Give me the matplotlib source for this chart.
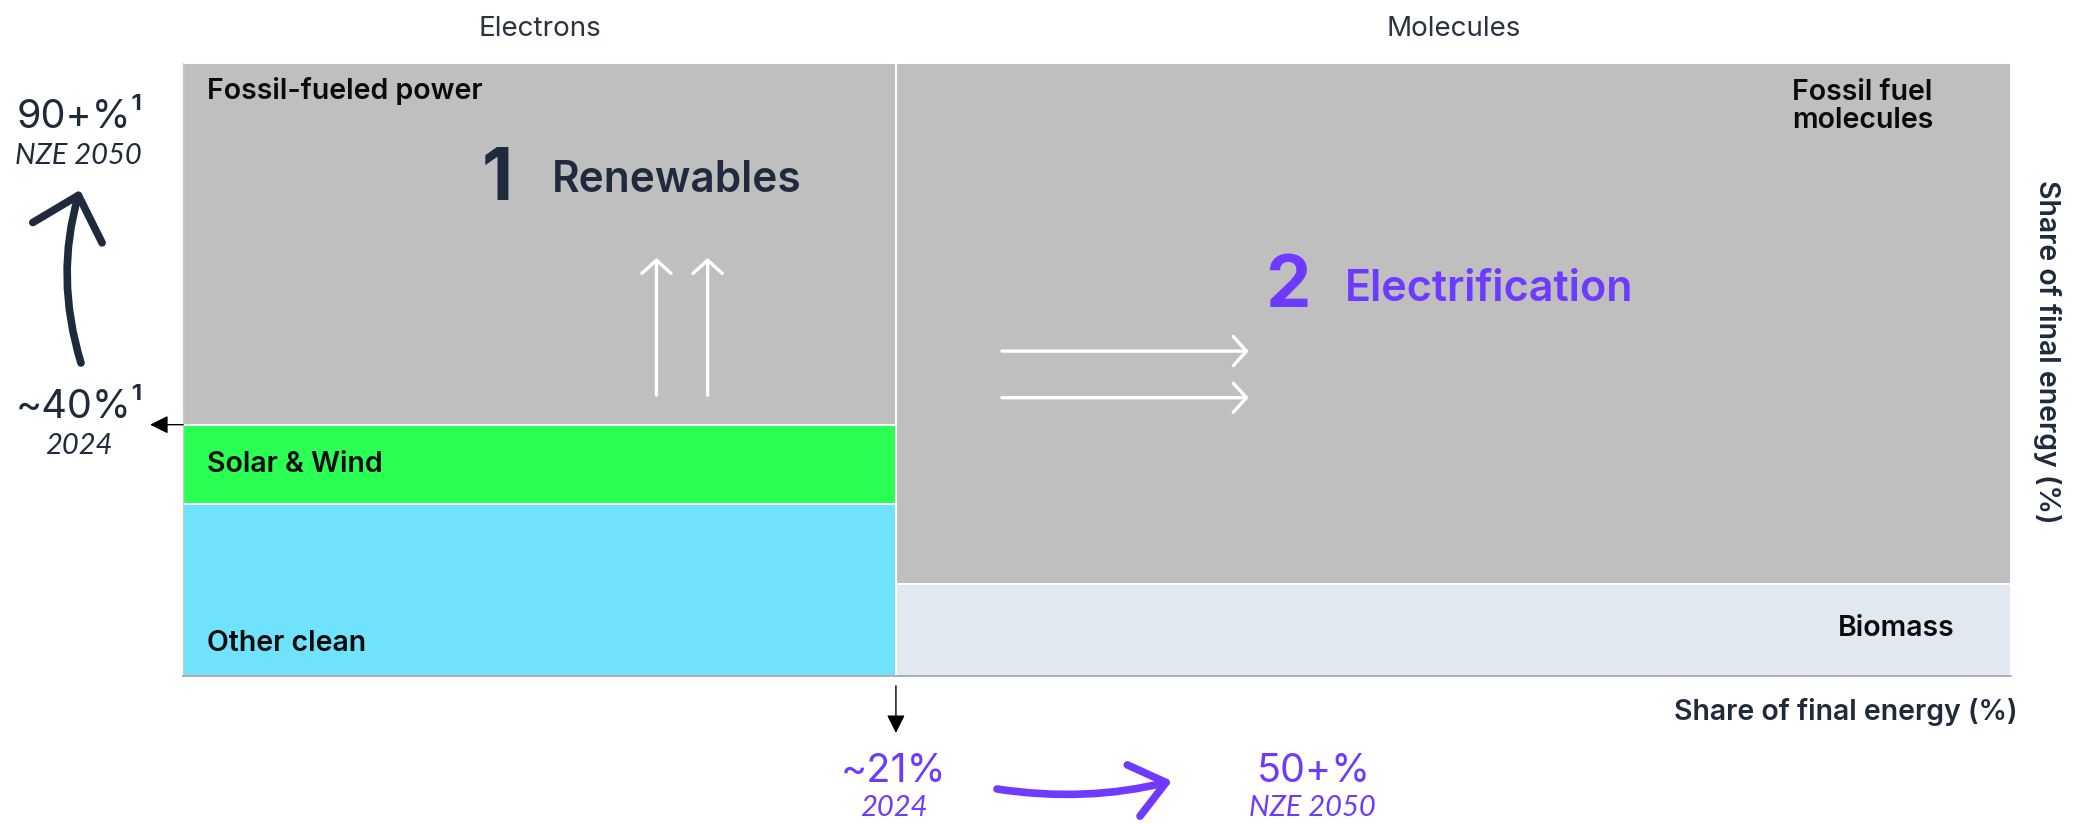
import matplotlib
matplotlib.use("Agg")
import matplotlib.pyplot as plt
from matplotlib.patches import FancyArrowPatch

# ─── Data ───────────────────────────────────────────────────────────────────

columns = ["Electrons", "Molecules"]
column_widths = [39, 61]

electron_segments = ["Other clean", "Solar & Wind", "Fossil-fueled power"]
electron_shares = [28, 13, 59]
electron_colors = ["#6EE3FB", "#2AFF53", "#BFBFBF"]

molecule_segments = ["Biomass", "Fossil fuel\nmolecules"]
molecule_shares = [15, 85]
molecule_colors = ["#E2E8F0", "#BFBFBF"]

power_now, power_now_year = "~40%¹", "2024"
power_target, power_target_year = "90+%¹", "NZE 2050"
elec_now, elec_now_year = "~21%", "2024"
elec_target, elec_target_year = "50+%", "NZE 2050"

NAVY = "#1F2B3D"
PURPLE = "#6F3AFF"

W, H = 2073, 824
plt.rcParams["font.family"] = ["Inter", "DejaVu Sans"]
ITALIC = ["Lato", "DejaVu Sans"]


def fx(x):
    return x / W


def fy(y):
    return 1 - y / H


fig = plt.figure(figsize=(W / 100, H / 100), dpi=100)
ax = fig.add_axes([fx(183), fy(676), (2011 - 183) / W, (676 - 63) / H])
ax.set_xlim(0, sum(column_widths))
ax.set_ylim(0, 100)
ax.set_xticks([])
ax.set_yticks([])
for side in ("top", "right"):
    ax.spines[side].set_visible(False)
ax.spines["left"].set_color("#C9CDD2")
ax.spines["left"].set_linewidth(1.0)
ax.spines["bottom"].set_color("#9AA1A9")
ax.spines["bottom"].set_linewidth(1.2)

# ─── Stacked columns ────────────────────────────────────────────────────────

stacks = [(electron_shares, electron_colors), (molecule_shares, molecule_colors)]
left = 0
edges = []
for (shares, colors), width in zip(stacks, column_widths):
    bottom = 0
    bounds = []
    for share, color in zip(shares, colors):
        ax.bar(left, share, width=width, bottom=bottom, align="edge",
               color=color, edgecolor="white", linewidth=1.4, zorder=1)
        bounds.append((bottom, bottom + share))
        bottom += share
    edges.append((left, left + width, bounds))
    left += width

# column headers
for name, (x0, x1, _) in zip(columns, edges):
    ax.text((x0 + x1) / 2, 100 + 5.6, name, ha="center", va="center",
            fontsize=20, color="#2B3340", clip_on=False)

# segment labels, electrons
e0, e1, eb = edges[0]
lab = dict(fontsize=20.5, fontweight="semibold", color="#0B0B0B")
ax.text(e0 + 1.3, eb[2][1] - 4.6, electron_segments[2], ha="left", va="center", **lab)
ax.text(e0 + 1.3, sum(eb[1]) / 2, electron_segments[1], ha="left", va="center", **lab)
ax.text(e0 + 1.3, eb[0][0] + 5.3, electron_segments[0], ha="left", va="center", **lab)

# segment labels, molecules
m0, m1, mb = edges[1]
ax.text(m1 - 12.0, mb[1][1] - 7.1, molecule_segments[1], ha="left", va="center",
        linespacing=1.05, **lab)
ax.text(m1 - 3.1, mb[0][0] + 7.8, molecule_segments[0], ha="right", va="center", **lab)

# ─── Lever titles ───────────────────────────────────────────────────────────

fig.text(fx(497), fy(200), "1", ha="center", va="baseline", fontsize=52,
         fontweight="bold", color=NAVY)
fig.text(fx(552), fy(192), "Renewables", ha="left", va="baseline", fontsize=30.5,
         fontweight="semibold", color=NAVY)
fig.text(fx(1288), fy(307), "2", ha="center", va="baseline", fontsize=52,
         fontweight="bold", color=PURPLE)
fig.text(fx(1345), fy(301), "Electrification", ha="left", va="baseline", fontsize=31,
         fontweight="semibold", color=PURPLE)

# white direction arrows
thin = dict(arrowstyle="->,head_length=0.95,head_width=1.05", mutation_scale=10,
            color="white", lw=2.4, shrinkA=0, shrinkB=0, zorder=3)
for x in (25.9, 28.7):
    ax.annotate("", xy=(x, 68.2), xytext=(x, 45.8), arrowprops=thin)
for y in (53.0, 45.4):
    ax.annotate("", xy=(58.3, y), xytext=(44.8, y), arrowprops=thin)

# ─── Axis titles ────────────────────────────────────────────────────────────

axis_lab = dict(fontsize=20.5, fontweight="semibold", color=NAVY)
fig.text(fx(2018), fy(712), "Share of final energy (%)", ha="right", va="center", **axis_lab)
fig.text(fx(2047), fy(352), "Share of final energy (%)", ha="center", va="center",
         rotation=-90, **axis_lab)

# ─── Pointers from the boundaries ───────────────────────────────────────────

small = dict(arrowstyle="-|>,head_length=1.1,head_width=0.55", mutation_scale=10,
             color="black", lw=1.0, shrinkA=0, shrinkB=0)
ax.annotate("", xy=(-1.8, eb[1][1]), xytext=(0, eb[1][1]), arrowprops=small,
            annotation_clip=False)
ax.annotate("", xy=(e1, -9.3), xytext=(e1, -1.6), arrowprops=small,
            annotation_clip=False)

# left: power sector share
big = dict(fontsize=28.5, color=NAVY)
sub = dict(fontsize=21, style="italic", family=ITALIC, color=NAVY)
fig.text(fx(80), fy(118), power_target, ha="center", va="center", **big)
fig.text(fx(78), fy(156), power_target_year, ha="center", va="center", **sub)
fig.text(fx(80), fy(407), power_now, ha="center", va="center", **big)
fig.text(fx(79), fy(446), power_now_year, ha="center", va="center", **sub)

fig.patches.append(FancyArrowPatch(
    (fx(81), fy(363)), (fx(80), fy(190)), transform=fig.transFigure,
    connectionstyle="arc3,rad=-0.15",
    arrowstyle="->,head_length=2.8,head_width=2.6", mutation_scale=10,
    color=NAVY, lw=5.5, capstyle="round", joinstyle="round",
    shrinkA=0, shrinkB=0))

# bottom: electricity share of final energy
big_p = dict(fontsize=28.5, color=PURPLE)
sub_p = dict(fontsize=21, style="italic", family=ITALIC, color=PURPLE)
fig.text(fx(894), fy(772), elec_now, ha="center", va="center", **big_p)
fig.text(fx(894), fy(808), elec_now_year, ha="center", va="center", **sub_p)
fig.text(fx(1314), fy(772), elec_target, ha="center", va="center", **big_p)
fig.text(fx(1312), fy(808), elec_target_year, ha="center", va="center", **sub_p)

fig.patches.append(FancyArrowPatch(
    (fx(997), fy(789)), (fx(1172), fy(781)), transform=fig.transFigure,
    connectionstyle="arc3,rad=0.1",
    arrowstyle="->,head_length=2.4,head_width=1.9", mutation_scale=10,
    color=PURPLE, lw=5.5, capstyle="round", joinstyle="round",
    shrinkA=0, shrinkB=0))

fig.savefig("out.png", dpi=100)
